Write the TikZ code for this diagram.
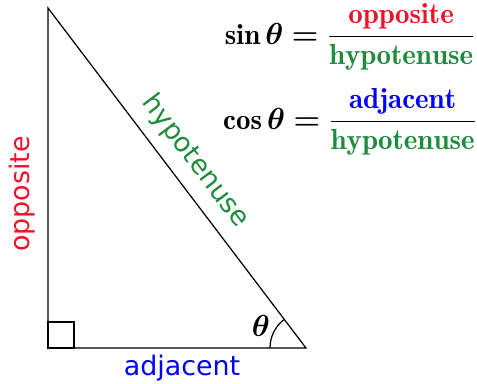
\documentclass[tikz,border=0pt]{standalone}
\usepackage{amsmath,amssymb}
\usepackage{fontspec}
\newfontfamily\trigsans{DejaVu Sans}
\usepackage{tikz}
\usetikzlibrary{angles,quotes}
\definecolor{trigred}{RGB}{235,20,45}
\definecolor{triggreen}{RGB}{30,140,60}
\definecolor{trigblue}{RGB}{0,0,255}

\begin{document}
\begin{tikzpicture}[x=0.02cm, y=0.02cm,
  every node/.style={font=\fontsize{16.5}{19}\selectfont},
  side/.style={font=\trigsans\fontsize{15.3}{18}\selectfont, text=#1},
  leg/.style={line width=0.7pt},
  ratio/.style={anchor=base, inner sep=0pt}
]
\useasboundingbox (0,0) rectangle (477,383);

% vertices
\coordinate (top) at (48,375);
\coordinate (bl)  at (48,35);
\coordinate (br)  at (306,35);

\draw[leg] (top) -- (bl) -- (br) -- cycle;
\draw[line width=0.9pt] (bl) rectangle ++(26,26);
\pic[draw, leg, angle radius=0.72cm, angle eccentricity=1.4,
     "$\boldsymbol{\theta}$"] {angle=top--br--bl};

% side labels
\node[side=trigred, rotate=90] (opp) at (22,189) {opposite};
\node[side=trigblue] (adj) at (182,15) {adjacent};
\path (top) -- node[sloped, above=3pt, pos=0.495, side=triggreen] (hyp) {hypotenuse} (br);

% ratios
\node[ratio] (sinrow) at (350,339)
  {$\displaystyle \mathbf{sin}\,\boldsymbol{\theta} \boldsymbol{=} \frac{\textcolor{trigred}{\mathbf{opposite}}}{\textcolor{triggreen}{\mathbf{hypotenuse}}}$};
\node[ratio] (cosrow) at (350,254)
  {$\displaystyle \mathbf{cos}\,\boldsymbol{\theta} \boldsymbol{=} \frac{\textcolor{trigblue}{\mathbf{adjacent}}}{\textcolor{triggreen}{\mathbf{hypotenuse}}}$};
\end{tikzpicture}
\end{document}
